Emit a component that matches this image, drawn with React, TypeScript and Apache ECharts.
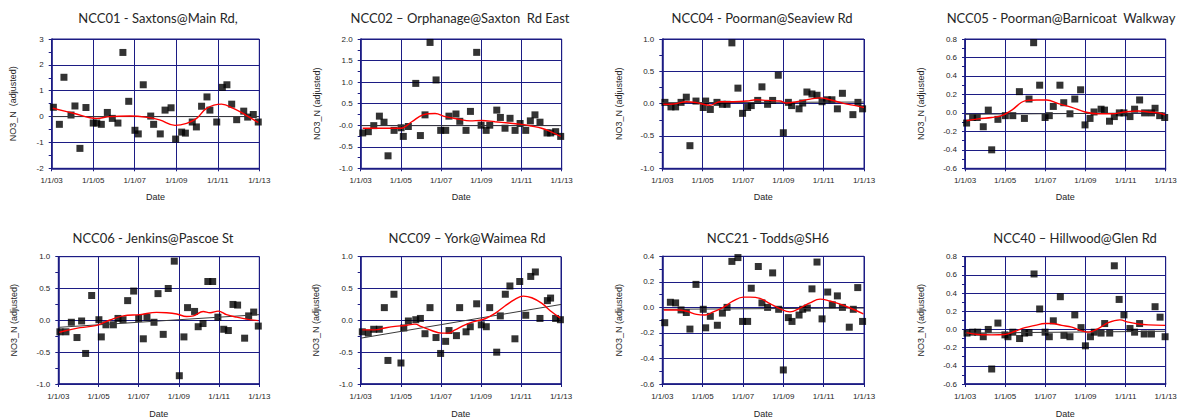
import React, { useEffect, useRef } from "react";
import * as echarts from "echarts";

// Sampling dates are decimal years; the x axes run in years since 2003.
const YEAR0 = 2003;

// ---- NCC01 ----
const ncc01X = [2003.08, 2003.37, 2003.59, 2003.93, 2004.12, 2004.36, 2004.65, 2005.0, 2005.17, 2005.39, 2005.68, 2005.92, 2006.19, 2006.43, 2006.71, 2007.01, 2007.17, 2007.41, 2007.77, 2007.91, 2008.23, 2008.46, 2008.75, 2008.97, 2009.26, 2009.44, 2009.77, 2009.97, 2010.22, 2010.48, 2010.62, 2010.95, 2011.22, 2011.44, 2011.67, 2011.91, 2012.25, 2012.44, 2012.71, 2012.95];
const ncc01Y = [0.36, -0.3, 1.52, 0.06, 0.41, -1.23, 0.35, -0.25, -0.25, -0.3, 0.16, -0.07, -0.25, 2.48, 0.59, -0.53, -0.67, 1.23, 0.02, -0.3, -0.67, 0.25, 0.34, -0.87, -0.6, -0.64, -0.21, -0.4, 0.4, 0.76, 0.25, -0.21, 1.13, 1.23, 0.48, -0.12, 0.21, -0.02, 0.08, -0.21];
const ncc01FitX = [2003.05, 2004.05, 2005.17, 2005.8, 2006.77, 2007.6, 2008.2, 2008.94, 2009.5, 2009.98, 2010.46, 2011.18, 2011.75, 2012.35, 2012.95];
const ncc01FitY = [0.32, 0.13, -0.07, 0.0, 0.02, -0.03, -0.13, -0.34, -0.26, -0.07, 0.32, 0.48, 0.32, 0.06, -0.23];
const ncc01Trend = [0.0, 0.0];
const ncc01Ticks = ["-2", "-1", "0", "1", "2", "3"];

// ---- NCC02 ----
const ncc02X = [2003.1, 2003.38, 2003.65, 2003.93, 2004.16, 2004.36, 2004.66, 2005.01, 2005.12, 2005.37, 2005.74, 2005.97, 2006.2, 2006.45, 2006.75, 2006.98, 2007.23, 2007.39, 2007.74, 2007.93, 2008.24, 2008.46, 2008.77, 2008.99, 2009.24, 2009.42, 2009.77, 2009.95, 2010.18, 2010.43, 2010.68, 2010.93, 2011.21, 2011.44, 2011.67, 2011.92, 2012.27, 2012.45, 2012.7, 2012.95];
const ncc02Y = [-0.18, -0.15, -0.01, 0.21, 0.07, -0.71, -0.12, -0.06, -0.26, -0.03, 0.97, -0.24, 0.24, 1.92, 1.05, -0.12, -0.12, 0.21, 0.26, 0.09, -0.12, 0.32, 1.69, 0.0, -0.12, 0.0, 0.35, 0.18, -0.07, 0.16, -0.12, 0.04, -0.12, 0.1, 0.24, 0.07, -0.18, -0.18, -0.15, -0.26];
const ncc02FitX = [2003.1, 2004.05, 2005.0, 2005.54, 2006.1, 2006.7, 2007.2, 2007.86, 2008.44, 2009.02, 2009.68, 2010.35, 2011.0, 2011.5, 2012.0, 2012.5, 2012.95];
const ncc02FitY = [-0.07, -0.07, -0.07, 0.08, 0.24, 0.27, 0.2, 0.14, 0.1, 0.11, 0.08, 0.05, 0.02, -0.02, -0.07, -0.16, -0.26];
const ncc02Trend = [-0.01, -0.01];
const ncc02Ticks = ["-1.0", "-0.5", "-0.0", "0.5", "1.0", "1.5", "2.0"];

// ---- NCC04 ----
const ncc04X = [2003.13, 2003.43, 2003.66, 2003.93, 2004.19, 2004.37, 2004.67, 2005.03, 2005.15, 2005.38, 2005.71, 2005.98, 2006.21, 2006.45, 2006.75, 2006.98, 2007.23, 2007.41, 2007.73, 2007.94, 2008.22, 2008.47, 2008.75, 2009.0, 2009.25, 2009.41, 2009.78, 2009.96, 2010.17, 2010.42, 2010.67, 2010.92, 2011.18, 2011.41, 2011.68, 2011.93, 2012.45, 2012.7, 2012.93];
const ncc04Y = [0.02, -0.05, -0.05, 0.02, 0.1, -0.65, 0.04, -0.06, 0.04, -0.09, 0.02, -0.01, -0.01, 0.94, 0.24, -0.15, -0.06, -0.03, 0.05, 0.26, -0.01, 0.05, 0.44, -0.45, 0.02, -0.03, -0.08, 0.01, 0.18, 0.15, 0.13, 0.03, 0.06, 0.06, -0.08, 0.16, -0.17, 0.02, -0.08];
const ncc04FitX = [2003.05, 2003.55, 2004.21, 2004.7, 2005.36, 2005.86, 2006.52, 2007.18, 2007.68, 2008.18, 2008.84, 2009.16, 2009.67, 2010.33, 2010.83, 2011.32, 2011.98, 2012.64, 2013.0];
const ncc04FitY = [-0.01, -0.005, 0.03, 0.015, -0.025, 0.03, 0.03, 0.04, 0.06, 0.05, 0.04, 0.01, 0.03, 0.07, 0.09, 0.06, 0.005, -0.035, -0.06];
const ncc04Trend = [0.015, 0.025];
const ncc04Ticks = ["-1.0", "-0.5", "0.0", "0.5", "1.0"];

// ---- NCC05 ----
const ncc05X = [2003.08, 2003.38, 2003.61, 2003.91, 2004.16, 2004.33, 2004.64, 2005.01, 2005.38, 2005.71, 2005.96, 2006.19, 2006.42, 2006.72, 2006.99, 2007.2, 2007.4, 2007.73, 2007.92, 2008.23, 2008.47, 2008.76, 2008.98, 2009.23, 2009.43, 2009.78, 2009.95, 2010.2, 2010.44, 2010.69, 2010.92, 2011.22, 2011.45, 2011.7, 2011.95, 2012.29, 2012.47, 2012.7, 2012.95];
const ncc05Y = [-0.11, -0.05, -0.05, -0.15, 0.03, -0.4, -0.07, -0.03, -0.03, 0.23, -0.06, 0.15, 0.76, 0.3, -0.05, -0.03, 0.07, 0.3, 0.11, -0.01, 0.15, 0.25, -0.13, -0.06, 0.01, 0.04, 0.03, -0.09, -0.04, 0.0, 0.0, -0.04, 0.04, 0.14, 0.0, 0.0, 0.05, -0.03, -0.05];
const ncc05FitX = [2003.08, 2003.66, 2004.33, 2004.83, 2005.33, 2005.99, 2006.57, 2007.07, 2007.65, 2008.32, 2008.98, 2009.64, 2010.31, 2010.97, 2011.64, 2012.14, 2012.63, 2012.97];
const ncc05FitY = [-0.085, -0.065, -0.05, -0.03, 0.03, 0.13, 0.14, 0.14, 0.1, 0.06, 0.01, -0.01, -0.01, 0.01, 0.02, 0.01, 0.0, -0.02];
const ncc05Trend = [-0.015, 0.0];
const ncc05Ticks = ["-0.6", "-0.4", "-0.2", "0.0", "0.2", "0.4", "0.6", "0.8"];

// ---- NCC06 ----
const ncc06X = [2003.08, 2003.38, 2003.65, 2003.93, 2004.16, 2004.36, 2004.66, 2005.02, 2005.14, 2005.37, 2005.74, 2005.97, 2006.22, 2006.45, 2006.75, 2007.0, 2007.23, 2007.41, 2007.76, 2007.96, 2008.22, 2008.47, 2008.77, 2009.02, 2009.25, 2009.43, 2009.78, 2009.96, 2010.2, 2010.44, 2010.68, 2010.94, 2011.23, 2011.46, 2011.69, 2011.92, 2012.27, 2012.47, 2012.72, 2012.95];
const ncc06Y = [-0.18, -0.18, -0.03, -0.27, -0.01, -0.52, 0.39, 0.01, -0.26, -0.07, -0.07, 0.03, 0.01, 0.31, 0.46, 0.03, -0.29, 0.05, -0.03, 0.42, -0.22, 0.5, 0.93, -0.87, -0.26, 0.2, 0.14, -0.1, -0.05, 0.61, 0.61, 0.05, -0.14, -0.16, 0.25, 0.24, -0.28, 0.07, 0.13, -0.09];
const ncc06FitX = [2003.05, 2003.41, 2004.08, 2004.91, 2005.57, 2006.23, 2007.06, 2007.89, 2008.39, 2008.89, 2009.38, 2009.72, 2010.21, 2010.55, 2010.96, 2011.37, 2011.87, 2012.37, 2012.95];
const ncc06FitY = [-0.19, -0.16, -0.115, -0.08, 0.005, 0.07, 0.09, 0.125, 0.12, 0.1, 0.06, 0.07, 0.14, 0.12, 0.145, 0.09, 0.05, 0.02, -0.005];
const ncc06Trend = [-0.11, 0.09];
const ncc06Ticks = ["-1.0", "-0.5", "0.0", "0.5", "1.0"];

// ---- NCC09 ----
const ncc09X = [2003.08, 2003.38, 2003.65, 2003.93, 2004.18, 2004.36, 2004.66, 2005.01, 2005.15, 2005.38, 2005.75, 2005.98, 2006.21, 2006.46, 2006.76, 2006.99, 2007.24, 2007.41, 2007.78, 2007.94, 2008.26, 2008.47, 2008.79, 2009.02, 2009.27, 2009.44, 2009.79, 2009.97, 2010.22, 2010.45, 2010.7, 2010.94, 2011.24, 2011.49, 2011.72, 2011.95, 2012.32, 2012.48, 2012.73, 2012.97];
const ncc09Y = [-0.18, -0.2, -0.14, -0.14, 0.2, -0.63, 0.41, -0.67, -0.12, -0.01, 0.01, 0.03, -0.21, 0.2, -0.27, -0.52, -0.33, -0.16, -0.24, 0.2, -0.18, -0.1, 0.26, -0.07, -0.1, 0.2, -0.5, 0.07, 0.41, 0.54, -0.29, 0.61, 0.08, 0.69, 0.76, 0.03, 0.31, 0.35, 0.03, 0.01];
const ncc09FitX = [2003.08, 2003.72, 2004.21, 2004.71, 2005.21, 2005.71, 2006.04, 2006.54, 2007.04, 2007.38, 2007.71, 2008.21, 2008.71, 2009.21, 2009.71, 2010.2, 2010.7, 2011.12, 2011.54, 2012.03, 2012.53, 2012.95];
const ncc09FitY = [-0.15, -0.15, -0.12, -0.095, -0.08, -0.06, -0.1, -0.16, -0.2, -0.2, -0.15, -0.07, -0.015, 0.025, 0.11, 0.225, 0.33, 0.38, 0.355, 0.27, 0.135, 0.04];
const ncc09Trend = [-0.28, 0.25];
const ncc09Ticks = ["-1.0", "-0.5", "0.0", "0.5", "1.0"];

// ---- NCC21 ----
const ncc21X = [2003.12, 2003.4, 2003.66, 2003.93, 2004.19, 2004.37, 2004.67, 2005.03, 2005.15, 2005.38, 2005.73, 2005.98, 2006.21, 2006.45, 2006.75, 2006.98, 2007.23, 2007.41, 2007.76, 2007.94, 2008.22, 2008.47, 2008.77, 2009.0, 2009.25, 2009.43, 2009.78, 2009.96, 2010.19, 2010.42, 2010.67, 2010.92, 2011.2, 2011.43, 2011.68, 2011.93, 2012.27, 2012.47, 2012.69, 2012.93];
const ncc21Y = [-0.12, 0.04, 0.035, -0.02, -0.04, -0.17, 0.18, -0.015, -0.16, -0.07, -0.14, -0.045, 0.0, 0.36, 0.39, -0.11, -0.11, 0.15, 0.32, 0.035, 0.0, 0.27, -0.015, -0.49, -0.08, -0.11, -0.06, -0.015, -0.005, 0.145, 0.355, -0.09, 0.12, 0.02, 0.09, 0.0, -0.155, -0.015, 0.155, -0.11];
const ncc21FitX = [2003.08, 2003.71, 2004.21, 2004.7, 2005.12, 2005.53, 2006.02, 2006.52, 2007.02, 2007.35, 2007.84, 2008.34, 2008.83, 2009.33, 2009.83, 2010.32, 2010.82, 2011.31, 2011.81, 2012.31, 2012.97];
const ncc21FitY = [-0.02, -0.02, -0.03, -0.055, -0.06, -0.035, 0.0, 0.05, 0.08, 0.08, 0.07, 0.03, -0.01, -0.035, -0.005, 0.035, 0.065, 0.05, 0.025, -0.005, -0.05];
const ncc21Trend = [-0.015, -0.005];
const ncc21Ticks = ["-0.6", "-0.4", "-0.2", "0.0", "0.2", "0.4"];

// ---- NCC40 ----
const ncc40X = [2003.1, 2003.38, 2003.63, 2003.91, 2004.16, 2004.33, 2004.64, 2004.99, 2005.14, 2005.38, 2005.72, 2005.97, 2006.19, 2006.44, 2006.72, 2006.99, 2007.2, 2007.4, 2007.75, 2007.93, 2008.23, 2008.47, 2008.78, 2009.0, 2009.25, 2009.44, 2009.78, 2009.96, 2010.21, 2010.44, 2010.68, 2010.92, 2011.22, 2011.45, 2011.7, 2011.93, 2012.29, 2012.47, 2012.72, 2012.97];
const ncc40Y = [-0.04, -0.03, -0.03, -0.08, 0.0, -0.435, 0.07, -0.06, -0.08, -0.03, -0.1, -0.04, -0.035, 0.61, 0.225, -0.03, -0.08, 0.095, 0.36, -0.065, -0.08, 0.16, 0.02, -0.18, -0.08, -0.03, -0.04, 0.065, -0.04, 0.7, 0.33, 0.16, 0.01, -0.03, 0.065, -0.05, -0.05, 0.25, 0.135, -0.08];
const ncc40FitX = [2003.08, 2003.66, 2004.33, 2004.99, 2005.49, 2005.99, 2006.49, 2006.99, 2007.32, 2007.82, 2008.32, 2008.81, 2009.15, 2009.64, 2010.14, 2010.72, 2011.14, 2011.64, 2012.14, 2012.97];
const ncc40FitY = [-0.035, -0.055, -0.06, -0.055, -0.02, 0.02, 0.045, 0.065, 0.065, 0.045, 0.025, -0.015, -0.03, 0.01, 0.075, 0.105, 0.08, 0.06, 0.05, 0.045];
const ncc40Trend = [-0.04, -0.02];
const ncc40Ticks = ["-0.6", "-0.4", "-0.2", "0.0", "0.2", "0.4", "0.6", "0.8"];

const xTickYears = [2003, 2005, 2007, 2009, 2011, 2013];

type Site = {
  title: string;
  yName: string;
  x: number[];
  y: number[];
  fitX: number[];
  fitY: number[];
  trend: number[];
  yMin: number;
  yMax: number;
  yStep: number;
  yTicks: string[];
};

const sites: Site[] = [
  { title: "NCC01 - Saxtons@Main Rd,", yName: "NO3_N  (adjusted)", x: ncc01X, y: ncc01Y, fitX: ncc01FitX, fitY: ncc01FitY, trend: ncc01Trend, yMin: -2, yMax: 3, yStep: 1, yTicks: ncc01Ticks },
  { title: "NCC02 \u2013 Orphanage@Saxton  Rd East", yName: "NO3_N (adjusted)", x: ncc02X, y: ncc02Y, fitX: ncc02FitX, fitY: ncc02FitY, trend: ncc02Trend, yMin: -1, yMax: 2, yStep: 0.5, yTicks: ncc02Ticks },
  { title: "NCC04 - Poorman@Seaview Rd", yName: "NO3_N (adjusted)", x: ncc04X, y: ncc04Y, fitX: ncc04FitX, fitY: ncc04FitY, trend: ncc04Trend, yMin: -1, yMax: 1, yStep: 0.5, yTicks: ncc04Ticks },
  { title: "NCC05 - Poorman@Barnicoat  Walkway", yName: "NO3_N (adjusted)", x: ncc05X, y: ncc05Y, fitX: ncc05FitX, fitY: ncc05FitY, trend: ncc05Trend, yMin: -0.6, yMax: 0.8, yStep: 0.2, yTicks: ncc05Ticks },
  { title: "NCC06 - Jenkins@Pascoe St", yName: "NO3_N (adjusted)", x: ncc06X, y: ncc06Y, fitX: ncc06FitX, fitY: ncc06FitY, trend: ncc06Trend, yMin: -1, yMax: 1, yStep: 0.5, yTicks: ncc06Ticks },
  { title: "NCC09 \u2013 York@Waimea Rd", yName: "NO3_N (adjusted)", x: ncc09X, y: ncc09Y, fitX: ncc09FitX, fitY: ncc09FitY, trend: ncc09Trend, yMin: -1, yMax: 1, yStep: 0.5, yTicks: ncc09Ticks },
  { title: "NCC21 - Todds@SH6", yName: "NO3_N (adjusted)", x: ncc21X, y: ncc21Y, fitX: ncc21FitX, fitY: ncc21FitY, trend: ncc21Trend, yMin: -0.6, yMax: 0.4, yStep: 0.2, yTicks: ncc21Ticks },
  { title: "NCC40 \u2013 Hillwood@Glen Rd", yName: "NO3_N (adjusted)", x: ncc40X, y: ncc40Y, fitX: ncc40FitX, fitY: ncc40FitY, trend: ncc40Trend, yMin: -0.6, yMax: 0.8, yStep: 0.2, yTicks: ncc40Ticks },
];

// Panel placement on the page (pixels)
const panels = [
  { left: 51.7, top: 39, width: 207.6, height: 129.3, titleX: 158, titleY: 18, nameGap: 34 },
  { left: 360.7, top: 39, width: 201, height: 129.3, titleX: 460, titleY: 18, nameGap: 39 },
  { left: 662.3, top: 39, width: 201.7, height: 129.3, titleX: 762, titleY: 18, nameGap: 39 },
  { left: 965, top: 39, width: 200.7, height: 129.3, titleX: 1061, titleY: 18, nameGap: 40 },
  { left: 58.3, top: 256.7, width: 201, height: 127.3, titleX: 153, titleY: 238, nameGap: 40 },
  { left: 360.7, top: 256.7, width: 200.3, height: 127.3, titleX: 467, titleY: 238, nameGap: 40 },
  { left: 662.3, top: 256.3, width: 201.7, height: 127.7, titleX: 768, titleY: 238, nameGap: 39 },
  { left: 965, top: 256.7, width: 200.7, height: 127.3, titleX: 1075, titleY: 238, nameGap: 40 },
];

const NAVY = "#1c1c84";
const TEXT = "#262626";
const LABEL_FONT = "'Liberation Sans', Arial, sans-serif";
const TITLE_FONT = "Lato, 'Open Sans', sans-serif";

export default function App() {
  const ref = useRef<HTMLDivElement>(null);

  useEffect(() => {
    if (!ref.current) return;
    const chart = echarts.init(ref.current, null, { renderer: "svg" });

    const grid: any[] = [];
    const xAxis: any[] = [];
    const yAxis: any[] = [];
    const series: any[] = [];
    const graphic: any[] = [];

    sites.forEach((s, i) => {
      const p = panels[i];
      grid.push({
        left: p.left,
        top: p.top,
        width: p.width,
        height: p.height,
        show: true,
        backgroundColor: "#ffffff",
        borderColor: NAVY,
        borderWidth: 1,
      });

      xAxis.push({
        type: "value",
        gridIndex: i,
        min: 0,
        max: xTickYears[xTickYears.length - 1] - YEAR0,
        interval: 2,
        name: "Date",
        nameLocation: "middle",
        nameGap: i < 4 ? 24 : 25,
        nameTextStyle: { fontFamily: LABEL_FONT, fontSize: 9, color: TEXT },
        axisLine: { show: true, onZero: false, lineStyle: { color: NAVY, width: 1.6 } },
        axisTick: { show: true, length: 3, lineStyle: { color: NAVY, width: 1 } },
        axisLabel: {
          margin: 8,
          fontFamily: LABEL_FONT,
          fontSize: 8,
          color: TEXT,
          showMinLabel: true,
          showMaxLabel: true,
          formatter: (v: number) => {
            const yr = Math.round(v + YEAR0) % 100;
            return `1/1/${String(yr).padStart(2, "0")}`;
          },
        },
        splitLine: { show: true, lineStyle: { color: NAVY, width: 1 } },
      });

      yAxis.push({
        type: "value",
        gridIndex: i,
        min: s.yMin,
        max: s.yMax,
        interval: s.yStep,
        name: s.yName,
        nameLocation: "middle",
        nameRotate: 90,
        nameGap: p.nameGap,
        nameTextStyle: { fontFamily: LABEL_FONT, fontSize: 9, color: TEXT },
        axisLine: { show: true, onZero: false, lineStyle: { color: NAVY, width: 1.6 } },
        axisTick: { show: true, length: 3, lineStyle: { color: NAVY, width: 1 } },
        minorTick: { show: true, splitNumber: 2, length: 3, lineStyle: { color: NAVY, width: 1 } },
        axisLabel: {
          margin: 8,
          fontFamily: LABEL_FONT,
          fontSize: 8,
          color: TEXT,
          formatter: (v: number) => s.yTicks[Math.round((v - s.yMin) / s.yStep)] ?? "",
        },
        splitLine: { show: true, lineStyle: { color: NAVY, width: 1 } },
      });

      series.push({
        type: "scatter",
        xAxisIndex: i,
        yAxisIndex: i,
        symbol: "rect",
        symbolSize: 7,
        itemStyle: { color: "#000000" },
        data: s.x.map((x, k) => [x - YEAR0, s.y[k]]),
        z: 3,
      });

      series.push({
        type: "line",
        xAxisIndex: i,
        yAxisIndex: i,
        showSymbol: false,
        symbol: "none",
        lineStyle: { color: "#3a3a3a", width: 1 },
        data: [
          [0, s.trend[0]],
          [xTickYears[xTickYears.length - 1] - YEAR0, s.trend[1]],
        ],
        z: 4,
      });

      series.push({
        type: "line",
        xAxisIndex: i,
        yAxisIndex: i,
        showSymbol: false,
        symbol: "none",
        smooth: 0.4,
        lineStyle: { color: "#ff0000", width: 1.4 },
        data: s.fitX.map((x, k) => [x - YEAR0, s.fitY[k]]),
        z: 5,
      });

      graphic.push({
        type: "text",
        x: p.titleX,
        y: p.titleY,
        style: {
          text: s.title,
          textAlign: "center",
          textVerticalAlign: "middle",
          fontFamily: TITLE_FONT,
          fontSize: 13,
          fill: TEXT,
        },
      });
    });

    chart.setOption({
      animation: false,
      backgroundColor: "#ffffff",
      grid,
      xAxis,
      yAxis,
      series,
      graphic,
    });

    return () => chart.dispose();
  }, []);

  return (
    <div
      ref={ref}
      style={{ position: "absolute", left: 0, top: 0, width: 1182, height: 419, background: "#ffffff" }}
    />
  );
}
